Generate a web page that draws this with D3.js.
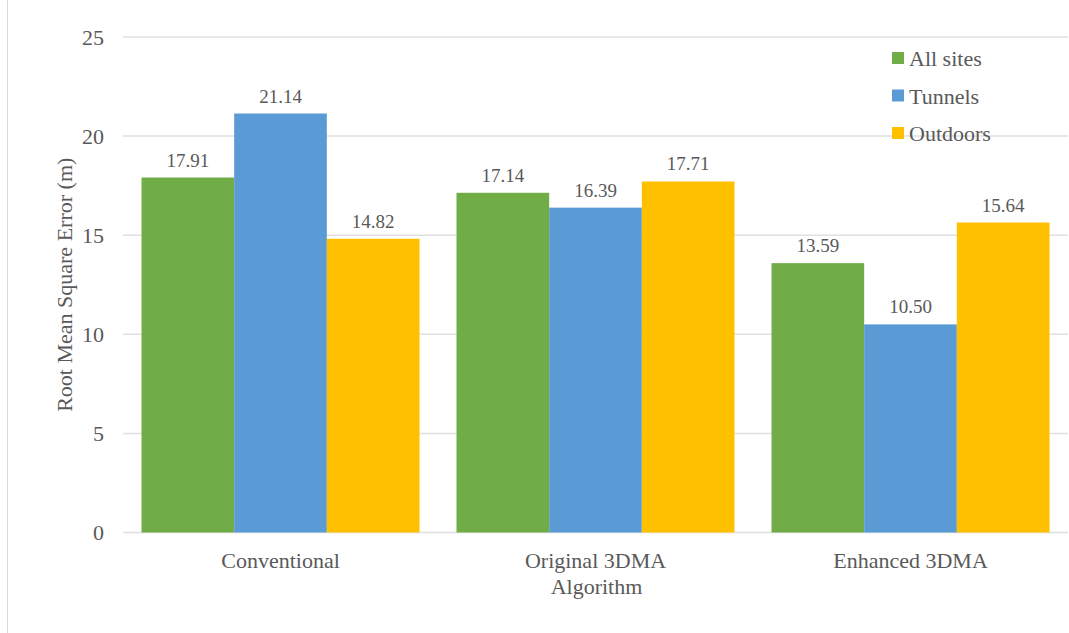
<!DOCTYPE html>
<html>
<head>
<meta charset="utf-8">
<script src="https://cdn.jsdelivr.net/npm/d3@7"></script>
<style>
  html, body { margin: 0; padding: 0; background: #fff; }
  svg text { font-family: "Liberation Serif", "Times New Roman", serif; fill: #595959; }
</style>
</head>
<body>
<svg id="chart" width="1069" height="633"></svg>
<script>
// Grouped bar chart: RMSE by positioning algorithm and site type
const categories = ["Conventional", "Original 3DMA", "Enhanced 3DMA"];
const seriesNames = ["All sites", "Tunnels", "Outdoors"];
const allSites = [17.91, 17.14, 13.59];
const tunnels  = [21.14, 16.39, 10.50];
const outdoors = [14.82, 17.71, 15.64];
const yTicks = [0, 5, 10, 15, 20, 25];
const colors = ["#70AD47", "#5B9BD5", "#FFC000"];

const seriesValues = [allSites, tunnels, outdoors];
const rows = categories.map((c, i) => ({
  category: c,
  values: seriesNames.map((s, j) => ({ series: s, value: seriesValues[j][i] }))
}));

const svg = d3.select("#chart");
const plot = { left: 123, right: 1068, top: 37, bottom: 532.5 };

// outer frame edge
svg.append("line")
  .attr("x1", 7.5).attr("x2", 7.5).attr("y1", 0).attr("y2", 633)
  .attr("stroke", "#d9d9d9").attr("stroke-width", 1);

const y = d3.scaleLinear().domain([0, 25]).range([plot.bottom, plot.top]);
const x0 = d3.scaleBand().domain(categories).range([plot.left, plot.right]).padding(0);
const gap = 18.5;
const x1 = d3.scaleBand().domain(seriesNames).range([gap, x0.bandwidth() - gap]).padding(0);
const color = d3.scaleOrdinal().domain(seriesNames).range(colors);

// horizontal gridlines
svg.append("g")
  .selectAll("line")
  .data(yTicks)
  .join("line")
  .attr("x1", plot.left).attr("x2", plot.right)
  .attr("y1", d => y(d)).attr("y2", d => y(d))
  .attr("stroke", "#e0e0e0").attr("stroke-width", 1.5);

// y axis labels
const yAxis = d3.axisLeft(y).tickValues(yTicks).tickSize(0).tickPadding(0);
const yg = svg.append("g").attr("transform", "translate(104,0)").call(yAxis);
yg.select(".domain").remove();
yg.selectAll("text")
  .attr("font-size", 22)
  .attr("dy", "0.33em")
  .style("font-family", '"Liberation Serif", serif')
  .attr("fill", "#595959");

// bars
const groups = svg.append("g")
  .selectAll("g")
  .data(rows)
  .join("g")
  .attr("transform", d => `translate(${x0(d.category)},0)`);

groups.selectAll("rect")
  .data(d => d.values)
  .join("rect")
  .attr("x", d => x1(d.series))
  .attr("width", x1.bandwidth())
  .attr("y", d => y(d.value))
  .attr("height", d => y(0) - y(d.value))
  .attr("fill", d => color(d.series));

// value labels
groups.selectAll("text")
  .data(d => d.values)
  .join("text")
  .attr("x", d => x1(d.series) + x1.bandwidth() / 2)
  .attr("y", d => y(d.value) - 11)
  .attr("text-anchor", "middle")
  .attr("font-size", 19)
  .text(d => d3.format(".2f")(d.value));

// category labels
const xAxis = d3.axisBottom(x0).tickSize(0).tickPadding(0);
const xg = svg.append("g").attr("transform", `translate(0,${plot.bottom})`).call(xAxis);
xg.select(".domain").remove();
xg.selectAll("text")
  .attr("font-size", 22)
  .attr("y", 35)
  .attr("dy", 0)
  .style("font-family", '"Liberation Serif", serif')
  .attr("fill", "#595959");

// axis titles
svg.append("text")
  .attr("x", (plot.left + plot.right) / 2 + 1)
  .attr("y", 594)
  .attr("text-anchor", "middle")
  .attr("font-size", 22)
  .text("Algorithm");

svg.append("text")
  .attr("transform", `translate(72,${(plot.top + plot.bottom) / 2}) rotate(-90)`)
  .attr("text-anchor", "middle")
  .attr("font-size", 22)
  .text("Root Mean Square Error (m)");

// legend
const legend = svg.append("g").attr("transform", "translate(892,58)");
const items = legend.selectAll("g")
  .data(seriesNames)
  .join("g")
  .attr("transform", (d, i) => `translate(0,${i * 37.5})`);
items.append("rect")
  .attr("x", 0).attr("y", -6).attr("width", 12).attr("height", 12)
  .attr("fill", d => color(d));
items.append("text")
  .attr("x", 17).attr("y", 8)
  .attr("font-size", 22)
  .text(d => d);
</script>
</body>
</html>
